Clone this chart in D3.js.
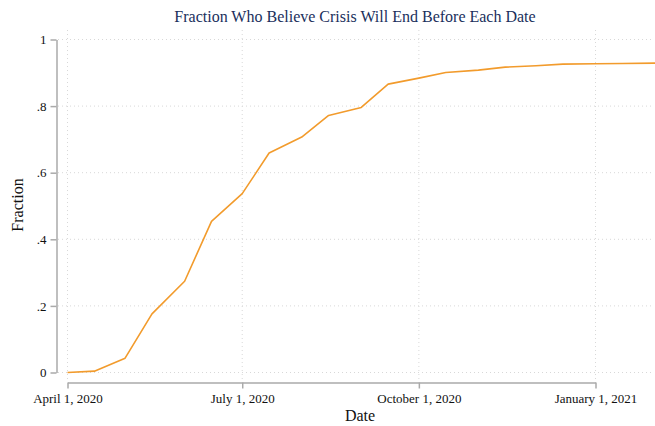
<!DOCTYPE html>
<html>
<head>
<meta charset="utf-8">
<script src="https://cdn.jsdelivr.net/npm/d3@7"></script>
<style>
  body { margin: 0; background: #fff; }
  text { font-family: "Liberation Serif", "DejaVu Serif", serif; }
</style>
</head>
<body>
<svg id="chart" width="655" height="426"></svg>
<script>
// survey dates (half-monthly) and cumulative fraction
const dates = [
  '2020-04-01', '2020-04-15', '2020-05-01', '2020-05-15', '2020-06-01', '2020-06-15',
  '2020-07-01', '2020-07-15', '2020-08-01', '2020-08-15', '2020-09-01', '2020-09-15',
  '2020-10-01', '2020-10-15', '2020-11-01', '2020-11-15', '2020-12-01', '2020-12-15',
  '2021-01-01', '2021-01-15', '2021-02-01'
];
const fractions = [
  0.000, 0.004, 0.043, 0.176, 0.274, 0.454,
  0.537, 0.659, 0.707, 0.772, 0.796, 0.866,
  0.884, 0.901, 0.908, 0.917, 0.921, 0.926,
  0.927, 0.928, 0.929
];
const xTickDates = ['2020-04-01', '2020-07-01', '2020-10-01', '2021-01-01'];
const xTickLabels = ['April 1, 2020', 'July 1, 2020', 'October 1, 2020', 'January 1, 2021'];
const yTicks = [0, 0.2, 0.4, 0.6, 0.8, 1];
const yTickLabels = ['0', '.2', '.4', '.6', '.8', '1'];

const parse = d3.utcParse('%Y-%m-%d');
const data = dates.map((d, i) => ({ date: parse(d), value: fractions[i] }));

const svg = d3.select('#chart');

// scales
const x = d3.scaleUtc()
  .domain([parse('2020-04-01'), parse('2021-01-01')])
  .range([67.5, 595.5]);
const y = d3.scaleLinear()
  .domain([0, 1])
  .range([372.5, 39.5]);

const gridLeft = 58, gridRight = 653, gridTop = 30, gridBottom = 379;

// grid lines
const grid = svg.append('g')
  .attr('stroke', '#d8d8d8')
  .attr('stroke-width', 1)
  .attr('stroke-dasharray', '1,3');
grid.selectAll('.hg')
  .data(yTicks)
  .enter()
  .append('line')
  .attr('x1', gridLeft)
  .attr('x2', gridRight)
  .attr('y1', d => y(d))
  .attr('y2', d => y(d));
grid.selectAll('.vg')
  .data(xTickDates)
  .enter()
  .append('line')
  .attr('x1', d => x(parse(d)))
  .attr('x2', d => x(parse(d)))
  .attr('y1', gridTop)
  .attr('y2', gridBottom);

// y axis
const yAxis = d3.axisLeft(y)
  .tickValues(yTicks)
  .tickFormat((d, i) => yTickLabels[i])
  .tickSize(6)
  .tickPadding(4)
  .tickSizeOuter(0);
const gy = svg.append('g')
  .attr('transform', 'translate(56.5,0)')
  .call(yAxis);
gy.select('.domain').attr('stroke', '#aaaaaa').attr('stroke-width', 1.5);
gy.selectAll('.tick line').attr('stroke', '#aaaaaa').attr('stroke-width', 1.5);
gy.selectAll('.tick text')
  .attr('fill', '#111')
  .style('font-family', '"Liberation Serif", serif')
  .style('font-size', '13px');

// x axis
const xAxis = d3.axisBottom(x)
  .tickValues(xTickDates.map(parse))
  .tickFormat((d, i) => xTickLabels[i])
  .tickSize(6)
  .tickPadding(5)
  .tickSizeOuter(0);
const gx = svg.append('g')
  .attr('transform', 'translate(0,382.5)')
  .call(xAxis);
gx.select('.domain').attr('stroke', '#aaaaaa').attr('stroke-width', 1.5);
gx.selectAll('.tick line').attr('stroke', '#aaaaaa').attr('stroke-width', 1.5);
gx.selectAll('.tick text')
  .attr('fill', '#111')
  .style('font-family', '"Liberation Serif", serif')
  .style('font-size', '13px');

// line
const line = d3.line()
  .x(d => x(d.date))
  .y(d => y(d.value));
svg.append('path')
  .datum(data)
  .attr('d', line)
  .attr('fill', 'none')
  .attr('stroke', '#f29b2c')
  .attr('stroke-width', 1.6)
  .attr('stroke-linejoin', 'round');

// title and axis titles
svg.append('text')
  .attr('x', 355)
  .attr('y', 22)
  .attr('text-anchor', 'middle')
  .attr('fill', '#1a2f5c')
  .style('font-size', '16px')
  .text('Fraction Who Believe Crisis Will End Before Each Date');

svg.append('text')
  .attr('x', 360)
  .attr('y', 421)
  .attr('text-anchor', 'middle')
  .attr('fill', '#111')
  .style('font-size', '16px')
  .text('Date');

svg.append('text')
  .attr('transform', 'translate(23,205) rotate(-90)')
  .attr('text-anchor', 'middle')
  .attr('fill', '#111')
  .style('font-size', '16px')
  .text('Fraction');
</script>
</body>
</html>
